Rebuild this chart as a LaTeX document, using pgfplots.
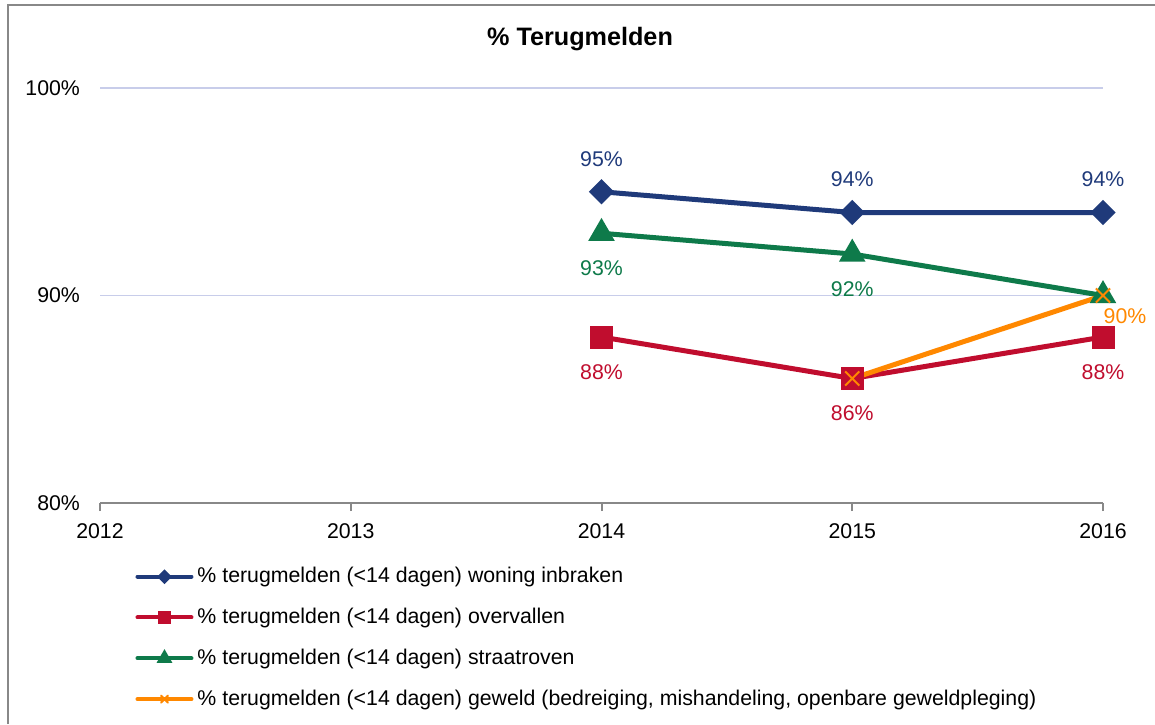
\documentclass[border=0pt]{standalone}
\usepackage{pgfplots}
\pgfplotsset{compat=1.18}
\usepackage{fontspec}
\setmainfont{Liberation Sans}
\definecolor{cblue}{HTML}{1F3A7A}
\definecolor{cred}{HTML}{C00D2E}
\definecolor{cgreen}{HTML}{0E7A4A}
\definecolor{corange}{HTML}{FF8800}
\definecolor{cgrid}{HTML}{C8CDEA}
\definecolor{caxis}{HTML}{888888}
\begin{document}
\begin{tikzpicture}
\useasboundingbox (0,0) rectangle (577.5pt,-362pt);
\draw[caxis, line width=1pt] (4pt,-362pt) -- (4pt,-2.25pt) -- (577.5pt,-2.25pt);
\node[font=\bfseries\fontsize{12.6}{15}\selectfont] at (290pt,-19.5pt) {\% Terugmelden};
\begin{axis}[
  at={(50pt,-251.5pt)}, anchor=south west,
  scale only axis, width=501.5pt, height=207.5pt,
  xmin=2012, xmax=2016, ymin=80, ymax=100,
  xtick={2012,2013,2014,2015,2016},
  xticklabels={2012,2013,2014,2015,2016},
  ytick={80,90,100},
  yticklabels={80\%,90\%,100\%},
  /pgf/number format/assume math mode=true,
  ticklabel style={font=\fontsize{10.65}{12}\selectfont},
  axis x line*=bottom, axis y line*=left,
  x axis line style={caxis, line width=1pt, -},
  y axis line style={draw=none},
  xtick style={caxis, line width=1pt},
  ytick style={draw=none},
  tick align=outside, major tick length=4pt,
  xticklabel style={yshift=-3pt},
  yticklabel style={xshift=-2.5pt},
  ymajorgrids, grid style={cgrid, line width=0.7pt},
  clip=false,
  legend style={at={(0.029,-0.135)}, anchor=north west, draw=none, fill=none,
    font=\fontsize{10.65}{12}\selectfont, row sep=7.2pt,
    /tikz/every even column/.append style={column sep=0pt}},
  legend cell align=left,
  legend image code/.code={\draw[#1, line cap=round, mark repeat=2, mark phase=2, line width=2pt, /tikz/every mark/.append style={scale=0.5}] plot coordinates {(0pt,0pt) (13.5pt,0pt) (27pt,0pt)};},
  nodes near coords,
  point meta=explicit symbolic,
  every node near coord/.append style={font=\fontsize{10.65}{12}\selectfont, anchor=center},
]
\addplot[cblue, line width=2.5pt, mark=square*, mark size=3.2pt, mark options={rotate=45, solid},
  every node near coord/.append style={text=cblue, yshift=16.5pt}]
  coordinates {(2014,95) [95\%] (2015,94) [94\%] (2016,94) [94\%]};
\addlegendentry{\% terugmelden (<14 dagen) woning inbraken}
\addplot[cred, line width=2.5pt, mark=square*, mark size=4.5pt, mark options={solid},
  every node near coord/.append style={text=cred, yshift=-17.5pt}]
  coordinates {(2014,88) [88\%] (2015,86) [86\%] (2016,88) [88\%]};
\addlegendentry{\% terugmelden (<14 dagen) overvallen}
\addplot[cgreen, line width=2.5pt, mark=triangle*, mark size=5.2pt, mark options={solid},
  every node near coord/.append style={text=cgreen, yshift=-17.5pt}]
  coordinates {(2014,93) [93\%] (2015,92) [92\%] (2016,90) []};
\addlegendentry{\% terugmelden (<14 dagen) straatroven}
\addplot[corange, line width=2.5pt, mark=x, mark size=5pt, mark options={solid, line width=1pt},
  every node near coord/.append style={text=corange, xshift=11pt, yshift=-10.5pt}]
  coordinates {(2015,86) [] (2016,90) [90\%]};
\addlegendentry{\% terugmelden (<14 dagen) geweld (bedreiging, mishandeling, openbare geweldpleging)}
\end{axis}
\end{tikzpicture}
\end{document}
